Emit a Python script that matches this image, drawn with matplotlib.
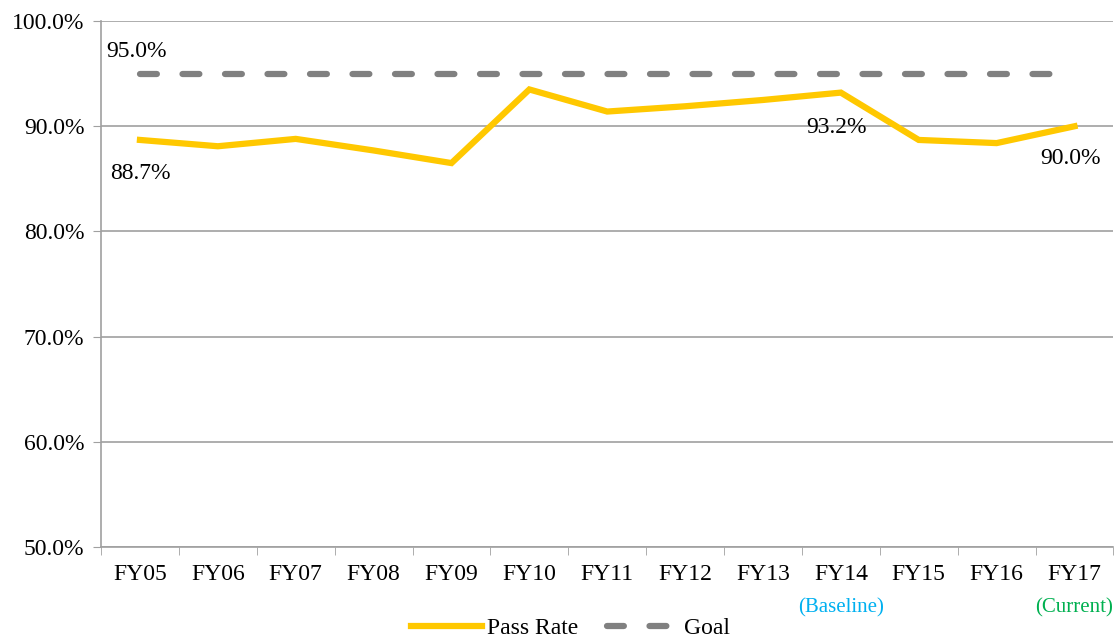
import numpy as np
import matplotlib.pyplot as plt

plt.rcParams['font.family'] = ['Liberation Serif', 'DejaVu Serif']

# data
years = ['FY05', 'FY06', 'FY07', 'FY08', 'FY09', 'FY10', 'FY11',
         'FY12', 'FY13', 'FY14', 'FY15', 'FY16', 'FY17']
pass_rate = [88.7, 88.1, 88.8, 87.7, 86.5, 93.5, 91.4,
             91.9, 92.5, 93.2, 88.7, 88.4, 90.0]
goal = [95.0] * len(years)
y_ticks = [50, 60, 70, 80, 90, 100]

x = np.arange(len(years))
grid_c = '#a0a0a0'
fs = 17

fig = plt.figure(figsize=(11.15, 6.39), dpi=100)
ax = fig.add_axes([0.0906, 0.144, 0.908, 0.823])

ax.plot(x, pass_rate, color='#ffc800', lw=4.5, solid_joinstyle='miter', zorder=3, label='Pass Rate')
ax.plot(x, goal, color='#808080', lw=4.5, dashes=(2.7, 4.1), dash_capstyle='round', zorder=3, label='Goal')

ax.set_xlim(-0.5, len(years) - 0.5)
ax.set_ylim(50, 100)
ax.set_yticks(y_ticks)
ax.set_yticklabels([f'{v:.1f}%' for v in y_ticks], fontsize=fs)
ax.yaxis.grid(True, color=grid_c, lw=1.2)
ax.set_axisbelow(True)
ax.tick_params(axis='y', length=6, color=grid_c, pad=6)

ax.set_xticks(x)
ax.set_xticklabels(years, fontsize=fs)
ax.set_xticks(np.arange(len(years) + 1) - 0.5, minor=True)
ax.tick_params(axis='x', which='major', length=0, pad=12)
ax.tick_params(axis='x', which='minor', length=6, color=grid_c)

for s in ['top', 'right']:
    ax.spines[s].set_visible(False)
for s in ['left', 'bottom']:
    ax.spines[s].set_color(grid_c)
    ax.spines[s].set_linewidth(1.2)

# data labels
ax.text(x[0] - 0.05, goal[0] + 1.1, f'{goal[0]:.1f}%', fontsize=fs, ha='center', va='bottom')
ax.text(x[0], pass_rate[0] - 2.2, f'{pass_rate[0]:.1f}%', fontsize=fs, ha='center', va='top')
ax.text(x[9] - 0.05, pass_rate[9] - 2.3, f'{pass_rate[9]:.1f}%', fontsize=fs, ha='center', va='top')
ax.text(x[12] - 0.05, pass_rate[12] - 2.1, f'{pass_rate[12]:.1f}%', fontsize=fs, ha='center', va='top')

# sub labels
ax.text(x[9], -0.098, '(Baseline)', transform=ax.get_xaxis_transform(),
        fontsize=15, color='#00b0f0', ha='center', va='top')
ax.text(x[12], -0.098, '(Current)', transform=ax.get_xaxis_transform(),
        fontsize=15, color='#00b050', ha='center', va='top')

ax.legend(loc='center', bbox_to_anchor=(0.4635, -0.155), ncol=2, frameon=False,
          fontsize=fs, handlelength=3.0, columnspacing=1.2, handletextpad=0.25,
          borderpad=0, borderaxespad=0)

fig.savefig('out.png', dpi=100)
